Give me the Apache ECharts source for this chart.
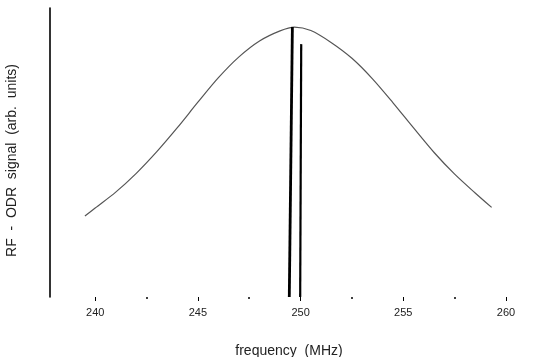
<!DOCTYPE html>
<html>
<head>
<meta charset="utf-8">
<script src="https://cdn.jsdelivr.net/npm/echarts@6/dist/echarts.min.js"></script>
<style>html,body{margin:0;padding:0;background:#fff}#c{width:549px;height:357px}</style>
</head>
<body>
<div id="c"></div>
<script>
var curveFreq = [239.5, 240.0, 241.0, 242.0, 243.0, 244.0, 245.0, 246.0, 247.0, 248.0, 249.0, 249.7, 250.5, 251.5, 252.5, 253.5, 254.5, 255.5, 256.5, 257.5, 258.5, 259.3];
var curveSignal = [0.28, 0.308, 0.363, 0.428, 0.503, 0.586, 0.674, 0.759, 0.831, 0.886, 0.921, 0.934, 0.922, 0.88, 0.826, 0.755, 0.672, 0.585, 0.5, 0.425, 0.36, 0.31];
var line1Freq = [249.45, 249.6];
var line1Signal = [0, 0.934];
var line2Freq = [249.98, 250.03];
var line2Signal = [0, 0.875];
var majorTicks = [240, 245, 250, 255, 260];
var minorTicks = [242.5, 247.5, 252.5, 257.5];

function pairs(xs, ys) { return xs.map(function (x, i) { return [x, ys[i]]; }); }

var chart = echarts.init(document.getElementById('c'));
chart.setOption({
  backgroundColor: '#fff',
  animation: false,
  grid: { left: 50, right: 43, top: 8, bottom: 60, containLabel: false, outerBoundsMode: 'none' },
  xAxis: [{
    type: 'value', min: 237.8, max: 260,
    name: 'frequency  (MHz)', nameLocation: 'middle', nameGap: 47,
    nameTextStyle: { fontFamily: 'Liberation Sans', fontSize: 14, color: '#222', padding: [0, 0, 0, 22] },
    axisLine: { show: false },
    splitLine: { show: false },
    axisTick: { show: true, inside: false, length: 4, customValues: majorTicks, lineStyle: { color: '#000', width: 1 } },
    axisLabel: { show: true, customValues: majorTicks, margin: 10, fontFamily: 'Liberation Sans', fontSize: 11, color: '#222' },
    minorTick: { show: false }
  }, {
    type: 'value', min: 237.8, max: 260, position: 'bottom',
    axisLine: { show: false }, splitLine: { show: false },
    axisTick: { show: true, length: 2, customValues: minorTicks, lineStyle: { color: '#000', width: 1.5 } },
    axisLabel: { show: false }
  }],
  yAxis: {
    type: 'value', min: 0, max: 1,
    name: 'RF  -  ODR  signal  (arb.  units)', nameLocation: 'middle', nameGap: 31,
    nameTextStyle: { fontFamily: 'Liberation Sans', fontSize: 14, color: '#222', padding: [0, 16, 0, 0] },
    axisLine: { show: true, lineStyle: { color: '#000', width: 1.6 } },
    axisTick: { show: false }, axisLabel: { show: false }, splitLine: { show: false }
  },
  series: [{
    type: 'line', data: pairs(curveFreq, curveSignal), smooth: 0.3, symbol: 'none',
    lineStyle: { color: '#555', width: 1.2 }
  }, {
    type: 'line', data: pairs(line1Freq, line1Signal), symbol: 'none',
    lineStyle: { color: '#000', width: 2.8 }
  }, {
    type: 'line', data: pairs(line2Freq, line2Signal), symbol: 'none',
    lineStyle: { color: '#000', width: 2.2 }
  }]
});
</script>
</body>
</html>
